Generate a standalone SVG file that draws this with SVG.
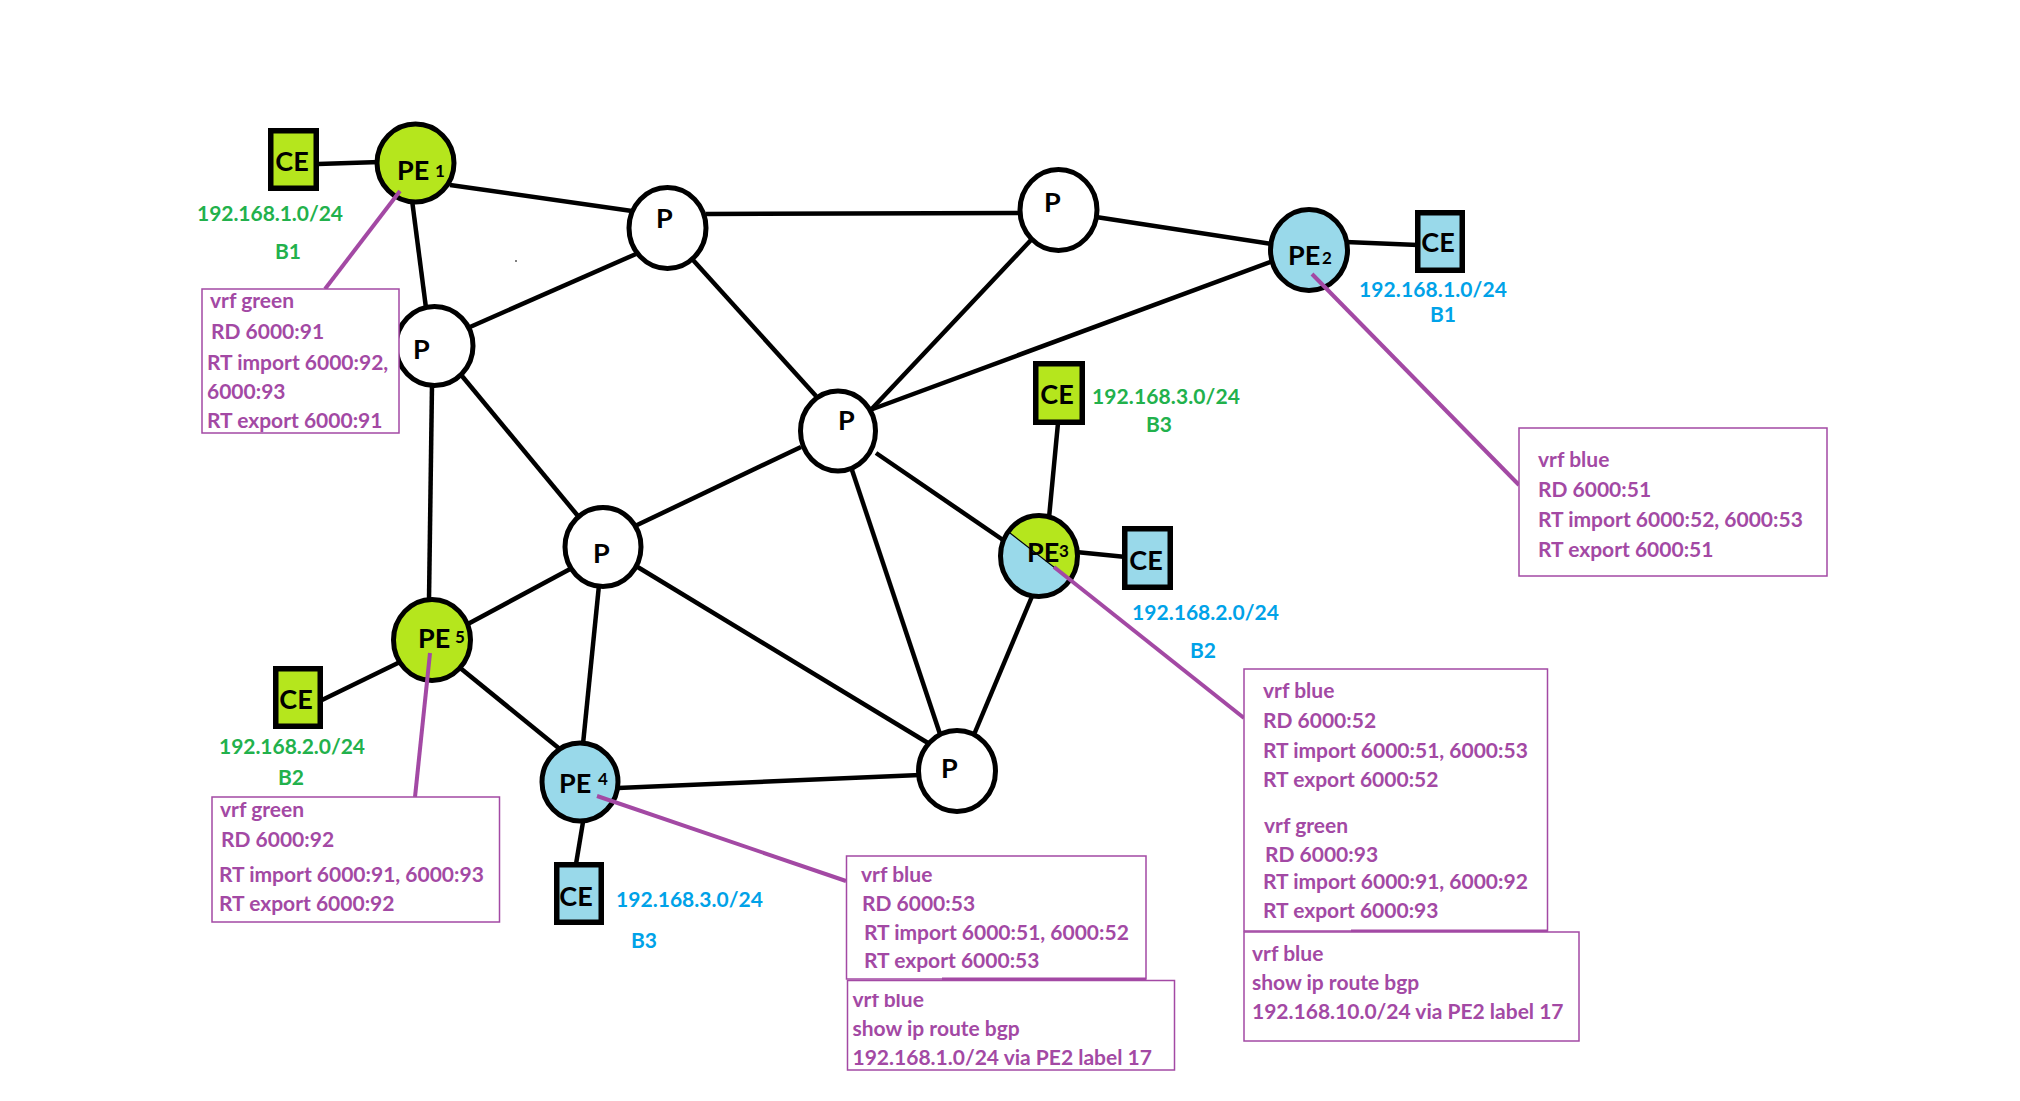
<svg xmlns="http://www.w3.org/2000/svg" width="2020" height="1101" viewBox="0 0 2020 1101">
<style>
.edge{stroke:#000;stroke-width:4.5;fill:none;stroke-linecap:butt}
.lead{stroke:#A349A4;stroke-width:4;fill:none}
.circ{stroke:#000;stroke-width:5}
.ce{stroke:#000;stroke-width:5.5}
.p{fill:#fff}
.g{fill:#B5E61D}
.b{fill:#99D9EA}
text{font-family:Lato,"Open Sans","Liberation Sans",sans-serif;font-weight:700}
.lbl{font-size:27px;fill:#000}
.sub{font-size:17px;fill:#000}
.ipg{font-size:21px;fill:#22B14C}
.ipb{font-size:21px;fill:#00A2E8}
.note{font-size:21px;fill:#A349A4}
.box{fill:#fff;stroke:#A349A4;stroke-width:1.5}
.uline{stroke:#A349A4;stroke-width:3}
</style>
<defs>
<clipPath id="pe3half"><polygon points="989.7,517.4 1088.3,592.6 1120,500 1000,470"/></clipPath>
<clipPath id="topcut"><rect x="840" y="994" width="340" height="80"/></clipPath>
</defs>
<rect width="2020" height="1101" fill="#fff"/>

<g id="connectors">
<line class="edge" x1="318" y1="164" x2="380" y2="162"/>
<line class="edge" x1="450" y1="185" x2="632" y2="211"/>
<line class="edge" x1="412" y1="200" x2="426" y2="308"/>
<line class="edge" x1="636" y1="254" x2="470" y2="327"/>
<line class="edge" x1="706" y1="214" x2="1021" y2="213"/>
<line class="edge" x1="693" y1="260" x2="816" y2="396"/>
<line class="edge" x1="1031" y1="240" x2="866" y2="415"/>
<line class="edge" x1="1096" y1="217" x2="1272" y2="244"/>
<line class="edge" x1="1346" y1="242" x2="1418" y2="245"/>
<line class="edge" x1="870" y1="410" x2="1273" y2="261"/>
<line class="edge" x1="1058" y1="423" x2="1049" y2="518"/>
<line class="edge" x1="1076" y1="552" x2="1126" y2="557"/>
<line class="edge" x1="876" y1="453" x2="1003" y2="540"/>
<line class="edge" x1="852" y1="470" x2="941" y2="737"/>
<line class="edge" x1="1033" y1="594" x2="973" y2="737"/>
<line class="edge" x1="801" y1="447" x2="635" y2="526"/>
<line class="edge" x1="462" y1="376" x2="578" y2="516"/>
<line class="edge" x1="432" y1="385" x2="429" y2="600"/>
<line class="edge" x1="572" y1="568" x2="466" y2="625"/>
<line class="edge" x1="599" y1="585" x2="583" y2="744"/>
<line class="edge" x1="636" y1="566" x2="928" y2="743"/>
<line class="edge" x1="322" y1="700" x2="400" y2="662"/>
<line class="edge" x1="459" y1="667" x2="561" y2="750"/>
<line class="edge" x1="618" y1="788" x2="920" y2="775"/>
<line class="edge" x1="583" y1="822" x2="576" y2="864"/>
</g>

<g id="ce1"><rect class="ce g" x="270.75" y="130.75" width="45.5" height="57.5"/><text class="lbl" x="292" y="171" text-anchor="middle">CE</text></g>
<g id="ce2"><rect class="ce b" x="1417.75" y="212.75" width="44.5" height="57.5"/><text class="lbl" x="1438" y="252" text-anchor="middle">CE</text></g>
<g id="ce3g"><rect class="ce g" x="1035.75" y="363.75" width="46.5" height="58.5"/><text class="lbl" x="1057" y="404" text-anchor="middle">CE</text></g>
<g id="ce3b"><rect class="ce b" x="1124.75" y="528.75" width="45.5" height="58.5"/><text class="lbl" x="1146" y="570" text-anchor="middle">CE</text></g>
<g id="ce5"><rect class="ce g" x="275.75" y="668.75" width="44.5" height="57.5"/><text class="lbl" x="296" y="709" text-anchor="middle">CE</text></g>
<g id="ce4"><rect class="ce b" x="556.75" y="864.75" width="44.5" height="57.5"/><text class="lbl" x="576" y="906" text-anchor="middle">CE</text></g>

<g id="pe1"><ellipse class="circ g" cx="415.5" cy="163" rx="38.5" ry="39"/><text class="lbl" x="397" y="180">PE</text><text class="sub" x="435" y="177">1</text></g>
<g id="pe2"><ellipse class="circ b" cx="1309" cy="250" rx="38.5" ry="40.5"/><text class="lbl" x="1288" y="265">PE</text><text class="sub" x="1322" y="264">2</text></g>
<g id="pe3">
<ellipse class="b" cx="1039" cy="556" rx="38.5" ry="40.5"/>
<ellipse class="g" cx="1039" cy="556" rx="38.5" ry="40.5" clip-path="url(#pe3half)"/>
<line x1="1010" y1="533" x2="1068" y2="578" stroke="#000" stroke-width="1.2"/>
<ellipse class="circ" fill="none" cx="1039" cy="556" rx="38.5" ry="40.5"/>
<text class="lbl" x="1027" y="562">PE</text><text class="sub" x="1059" y="557">3</text>
</g>
<g id="pe4"><ellipse class="circ b" cx="580" cy="782" rx="38" ry="39"/><text class="lbl" x="559" y="793">PE</text><text class="sub" x="598" y="785">4</text></g>
<g id="pe5"><ellipse class="circ g" cx="432" cy="640" rx="38.5" ry="40.5"/><text class="lbl" x="418" y="648">PE</text><text class="sub" x="455" y="643">5</text></g>

<g id="p-tl"><ellipse class="circ p" cx="667.5" cy="228" rx="38.5" ry="40.5"/><text class="lbl" x="656" y="228">P</text></g>
<g id="p-tr"><ellipse class="circ p" cx="1058.5" cy="210" rx="38.5" ry="40.5"/><text class="lbl" x="1044" y="212">P</text></g>
<g id="p-l"><ellipse class="circ p" cx="434.5" cy="346" rx="38.5" ry="39.5"/><text class="lbl" x="413" y="359">P</text></g>
<g id="p-c"><ellipse class="circ p" cx="838" cy="431" rx="37.5" ry="40"/><text class="lbl" x="838" y="430">P</text></g>
<g id="p-m"><ellipse class="circ p" cx="603" cy="547" rx="38" ry="39.5"/><text class="lbl" x="593" y="563">P</text></g>
<g id="p-b"><ellipse class="circ p" cx="957" cy="771" rx="38.5" ry="40.5"/><text class="lbl" x="941" y="778">P</text></g>

<g id="site-labels">
<text class="ipg" x="197" y="221" textLength="146">192.168.1.0/24</text>
<text class="ipg" x="275" y="259">B1</text>
<text class="ipb" x="1359" y="297" textLength="148">192.168.1.0/24</text>
<text class="ipb" x="1430" y="322">B1</text>
<text class="ipg" x="1092" y="404" textLength="148">192.168.3.0/24</text>
<text class="ipg" x="1146" y="432">B3</text>
<text class="ipb" x="1132" y="620" textLength="147">192.168.2.0/24</text>
<text class="ipb" x="1190" y="658">B2</text>
<text class="ipg" x="219" y="754" textLength="146">192.168.2.0/24</text>
<text class="ipg" x="278" y="785">B2</text>
<text class="ipb" x="616" y="907" textLength="147">192.168.3.0/24</text>
<text class="ipb" x="631" y="948">B3</text>
</g>

<circle cx="516" cy="261" r="1" fill="#555"/>

<g id="leaders">
<line class="lead" x1="400" y1="191" x2="325" y2="289"/>
<line class="lead" x1="1312" y1="274" x2="1519" y2="485"/>
<line class="lead" x1="1054" y1="567" x2="1244" y2="718"/>
<line class="lead" x1="430" y1="653" x2="415" y2="797"/>
<line class="lead" x1="597" y1="796" x2="846" y2="881"/>
</g>

<g id="note-pe1">
<rect class="box" x="202" y="289" width="197" height="144"/>
<text class="note" x="210" y="308">vrf green</text>
<text class="note" x="211" y="339">RD 6000:91</text>
<text class="note" x="207" y="370">RT import 6000:92,</text>
<text class="note" x="207" y="399">6000:93</text>
<text class="note" x="207" y="428">RT export 6000:91</text>
</g>
<g id="note-pe2">
<rect class="box" x="1519" y="428" width="308" height="148"/>
<text class="note" x="1538" y="467">vrf blue</text>
<text class="note" x="1538" y="497">RD 6000:51</text>
<text class="note" x="1538" y="527">RT import 6000:52, 6000:53</text>
<text class="note" x="1538" y="557">RT export 6000:51</text>
</g>
<g id="note-pe3">
<rect class="box" x="1244" y="669" width="303.5" height="262"/>
<text class="note" x="1263" y="698">vrf blue</text>
<text class="note" x="1263" y="728">RD 6000:52</text>
<text class="note" x="1263" y="758">RT import 6000:51, 6000:53</text>
<text class="note" x="1263" y="787">RT export 6000:52</text>
<text class="note" x="1264" y="833">vrf green</text>
<text class="note" x="1265" y="862">RD 6000:93</text>
<text class="note" x="1263" y="889">RT import 6000:91, 6000:92</text>
<text class="note" x="1263" y="918">RT export 6000:93</text>
<line class="uline" x1="1351" y1="931" x2="1547.5" y2="931"/>
</g>
<g id="note-pe3-route">
<rect class="box" x="1244" y="932" width="335" height="109"/>
<text class="note" x="1252" y="961">vrf blue</text>
<text class="note" x="1252" y="990">show ip route bgp</text>
<text class="note" x="1252" y="1019">192.168.10.0/24 via PE2 label 17</text>
</g>
<g id="note-pe4">
<rect class="box" x="846.5" y="856" width="299.5" height="123"/>
<text class="note" x="861" y="882">vrf blue</text>
<text class="note" x="862" y="911">RD 6000:53</text>
<text class="note" x="864" y="940">RT import 6000:51, 6000:52</text>
<text class="note" x="864" y="968">RT export 6000:53</text>
<line class="uline" x1="942" y1="979" x2="1146" y2="979"/>
</g>
<g id="note-pe4-route">
<rect class="box" x="847.5" y="980.5" width="327" height="89.5"/>
<text class="note" x="852.5" y="1007" clip-path="url(#topcut)">vrf blue</text>
<text class="note" x="852.5" y="1036">show ip route bgp</text>
<text class="note" x="852.5" y="1065">192.168.1.0/24 via PE2 label 17</text>
</g>
<g id="note-pe5">
<rect class="box" x="212" y="797" width="287.5" height="125"/>
<text class="note" x="220" y="817">vrf green</text>
<text class="note" x="221" y="847">RD 6000:92</text>
<text class="note" x="219" y="882">RT import 6000:91, 6000:93</text>
<text class="note" x="219" y="911">RT export 6000:92</text>
</g>
</svg>
